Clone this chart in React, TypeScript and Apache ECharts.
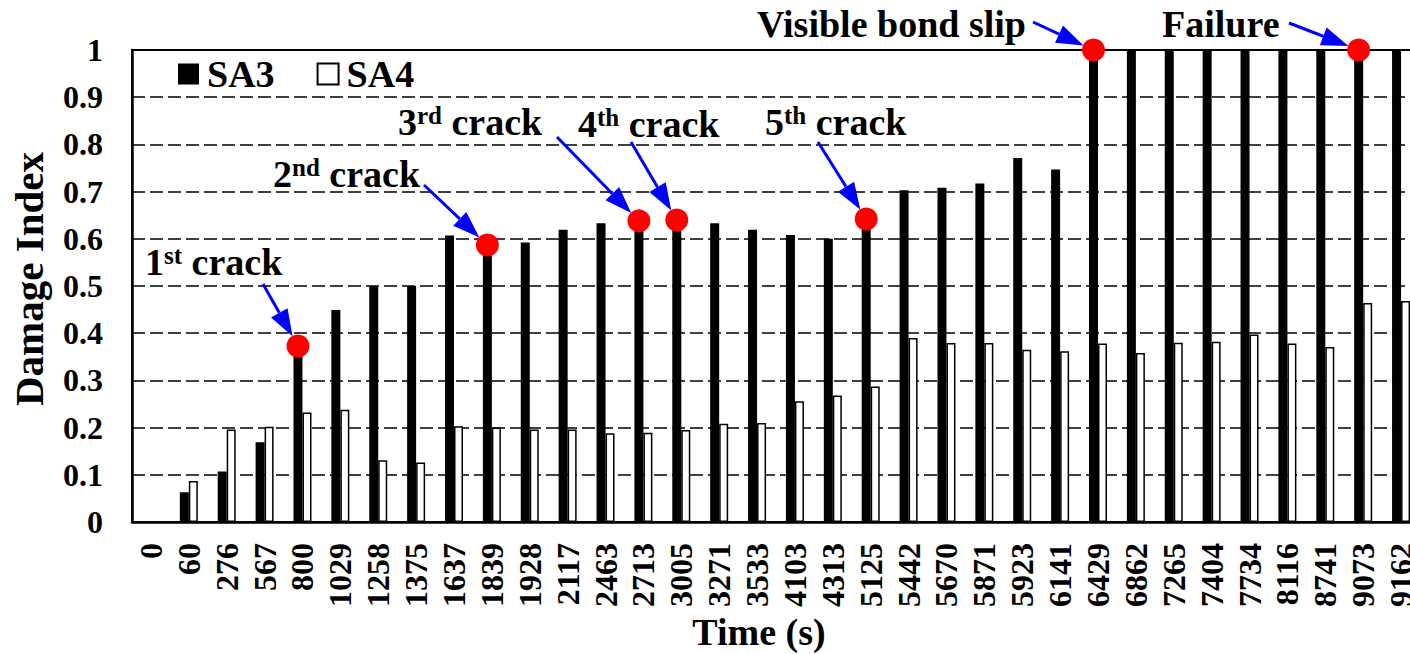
import React, { useEffect, useRef } from 'react';
import * as echarts from 'echarts';

const FONT = '"Liberation Serif", "Times New Roman", serif';

const categories = ['0', '60', '276', '567', '800', '1029', '1258', '1375', '1637', '1839', '1928', '2117', '2463', '2713', '3005', '3271', '3533', '4103', '4313', '5125', '5442', '5670', '5871', '5923', '6141', '6429', '6862', '7265', '7404', '7734', '8116', '8741', '9073', '9162'];
const sa3 = [0, 0.063, 0.107, 0.169, 0.373, 0.449, 0.5, 0.5, 0.607, 0.587, 0.592, 0.619, 0.633, 0.638, 0.64, 0.633, 0.619, 0.608, 0.6, 0.642, 0.703, 0.708, 0.717, 0.771, 0.747, 1, 1, 1, 1, 1, 1, 1, 1, 1];
const sa4 = [0, 0.087, 0.196, 0.202, 0.232, 0.238, 0.131, 0.126, 0.203, 0.2, 0.196, 0.196, 0.188, 0.189, 0.195, 0.208, 0.21, 0.256, 0.268, 0.287, 0.39, 0.379, 0.379, 0.365, 0.362, 0.378, 0.358, 0.38, 0.382, 0.397, 0.378, 0.371, 0.464, 0.468];

const markerCategories = ['800', '1839', '2713', '3005', '5125', '6429', '9073'];
const annotationMain = ['1', '2', '3', '4', '5', 'Visible bond slip', 'Failure'];
const annotationSup = ['st', 'nd', 'rd', 'th', 'th', '', ''];
const annotationTail = [' crack', ' crack', ' crack', ' crack', ' crack', '', ''];
const annotationTextPos = [[145, 275], [273, 187], [398, 135], [578, 137], [765, 135], [757, 37], [1162, 37]];
const arrowStart = [[263, 284], [424, 185], [557, 137], [631, 142], [818, 142], [1033, 22], [1289, 23]];

export default function App() {
  const ref = useRef<HTMLDivElement>(null);
  useEffect(() => {
    const chart = echarts.init(ref.current!, undefined, { renderer: 'svg' });
    const markerData = markerCategories.map((c) => [c, sa3[categories.indexOf(c)]]);
    chart.setOption({
      animation: false,
      backgroundColor: '#fff',
      textStyle: { fontFamily: FONT },
      grid: {
        left: 132, top: 50, right: -10, bottom: 132,
        show: true, borderColor: '#000', borderWidth: 2,
        containLabel: false, outerBoundsMode: 'none',
      },
      legend: {
        data: ['SA3', 'SA4'],
        left: 178, top: 52,
        padding: 0,
        itemWidth: 21, itemHeight: 21, itemGap: 42,
        icon: 'rect',
        textStyle: { fontSize: 38, fontWeight: 'bold', color: '#000', fontFamily: FONT, lineHeight: 44, padding: [0, 0, 0, 3] },
      },
      xAxis: {
        type: 'category',
        data: categories,
        axisLine: { lineStyle: { color: '#000', width: 2.5 } },
        axisTick: { show: false },
        axisLabel: { rotate: 90, interval: 0, margin: 21, fontSize: 32, fontWeight: 'bold', color: '#000', fontFamily: FONT },
      },
      yAxis: {
        type: 'value', min: 0, max: 1, interval: 0.1,
        axisLine: { show: true, lineStyle: { color: '#000', width: 2.5 } },
        axisTick: { show: false },
        axisLabel: { margin: 29, fontSize: 32, fontWeight: 'bold', color: '#000', fontFamily: FONT },
        splitLine: { lineStyle: { color: '#000', width: 1.5, type: [13, 5] } },
      },
      series: [
        { name: 'SA3', type: 'bar', data: sa3, barWidth: 9, barGap: '0%', itemStyle: { color: '#000' } },
        { name: 'SA4', type: 'bar', data: sa4, barWidth: 9, itemStyle: { color: '#fff', borderColor: '#000', borderWidth: 1.5 } },
        { name: 'marker', type: 'scatter', data: markerData, symbolSize: 23, symbolOffset: [-4.5, 0], itemStyle: { color: '#ff0000', opacity: 1 }, z: 5, clip: false },
      ],
    });

    const g: any[] = [];
    const rich = {
      m: { fontSize: 38, fontWeight: 'bold', fontFamily: FONT, fill: '#000', verticalAlign: 'bottom' },
      s: { fontSize: 25, fontWeight: 'bold', fontFamily: FONT, fill: '#000', verticalAlign: 'top' },
    };
    markerCategories.forEach((c, i) => {
      const p = chart.convertToPixel({ xAxisIndex: 0, yAxisIndex: 0 }, [c, sa3[categories.indexOf(c)]]) as number[];
      const cx = p[0] - 4.5;
      const cy = p[1];
      const [sx, sy] = arrowStart[i];
      const dx = sx - cx;
      const dy = sy - cy;
      const len = Math.hypot(dx, dy);
      const ux = dx / len;
      const uy = dy / len;
      const tipX = cx + ux * 11;
      const tipY = cy + uy * 11;
      const headLen = 27;
      const headHalf = 9.5;
      const bx = tipX + ux * headLen;
      const by = tipY + uy * headLen;
      const px = -uy;
      const py = ux;
      g.push({ type: 'line', z: 100, shape: { x1: sx, y1: sy, x2: bx, y2: by }, style: { stroke: '#0000ff', lineWidth: 3 } });
      g.push({
        type: 'polygon', z: 100,
        shape: { points: [[tipX, tipY], [bx + px * headHalf, by + py * headHalf], [bx - px * headHalf, by - py * headHalf]] },
        style: { fill: '#0000ff' },
      });
      const sup = annotationSup[i];
      const text = sup ? `{m|${annotationMain[i]}}{s|${sup}}{m|${annotationTail[i]}}` : `{m|${annotationMain[i]}}`;
      const [tx, ty] = annotationTextPos[i];
      g.push({
        type: 'text', z: 100, x: tx, y: ty + 6,
        style: { text, rich, align: 'left', verticalAlign: 'bottom', textAlign: 'left', textVerticalAlign: 'bottom' },
      });
    });
    g.push({
      type: 'text', x: 29, y: 279, rotation: Math.PI / 2,
      style: { text: 'Damage Index', fontSize: 41, fontWeight: 'bold', fontFamily: FONT, fill: '#000', align: 'center', verticalAlign: 'middle', textAlign: 'center', textVerticalAlign: 'middle' },
    });
    g.push({
      type: 'text', x: 759, y: 632,
      style: { text: 'Time (s)', fontSize: 38, fontWeight: 'bold', fontFamily: FONT, fill: '#000', align: 'center', verticalAlign: 'middle', textAlign: 'center', textVerticalAlign: 'middle' },
    });
    chart.setOption({ graphic: g });

    return () => chart.dispose();
  }, []);
  return <div ref={ref} style={{ position: 'absolute', left: 0, top: 0, width: 1410, height: 654 }} />;
}
